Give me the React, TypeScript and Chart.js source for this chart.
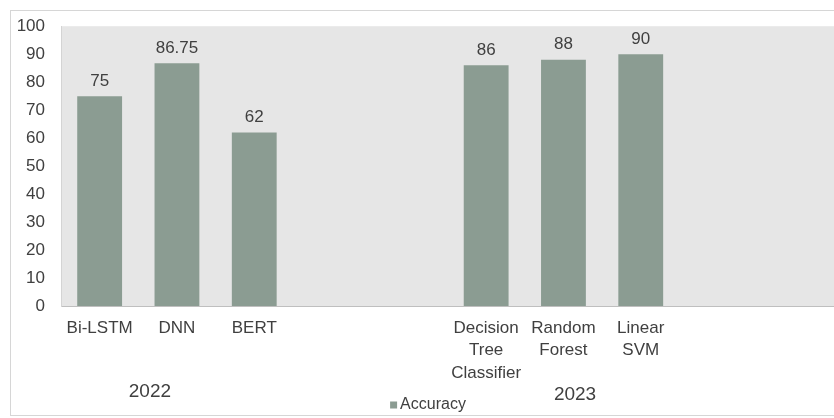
import React, { useEffect, useRef } from "react";
import { Chart, registerables } from "chart.js";

Chart.register(...registerables);

const categories: (string | string[])[] = [
  "Bi-LSTM",
  "DNN",
  "BERT",
  "",
  "",
  ["Decision", "Tree", "Classifier"],
  ["Random", "Forest"],
  ["Linear", "SVM"],
  "",
  "",
];
const accuracy: (number | null)[] = [75, 86.75, 62, null, null, 86, 88, 90, null, null];
const valueLabels: string[] = ["75", "86.75", "62", "", "", "86", "88", "90", "", ""];
const groupLabels: string[] = ["2022", "2023"];
const groupPositions: number[] = [0.65, 6.15];
const yTicks: number[] = [0, 10, 20, 30, 40, 50, 60, 70, 80, 90, 100];
const seriesName = "Accuracy";

const FONT = "'Liberation Sans', Arial, sans-serif";
const TEXT = "#404040";
const BAR = "#8b9c92";

export default function App() {
  const ref = useRef<HTMLCanvasElement | null>(null);

  useEffect(() => {
    if (!ref.current) return;
    const deco = {
      id: "deco",
      beforeDraw(chart: any) {
        const { ctx, chartArea } = chart;
        ctx.save();
        ctx.fillStyle = "#ffffff";
        ctx.fillRect(0, 0, chart.width, chart.height);
        ctx.strokeStyle = "#d6d6d6";
        ctx.lineWidth = 1;
        ctx.strokeRect(10.5, 10.5, chart.width, chart.height - 13);
        ctx.fillStyle = "#e6e6e6";
        ctx.fillRect(chartArea.left, chartArea.top, chartArea.right - chartArea.left, chartArea.bottom - chartArea.top);
        ctx.restore();
      },
      afterDatasetsDraw(chart: any) {
        const { ctx } = chart;
        const meta = chart.getDatasetMeta(0);
        ctx.save();
        ctx.font = `17px ${FONT}`;
        ctx.fillStyle = TEXT;
        ctx.textAlign = "center";
        ctx.textBaseline = "middle";
        meta.data.forEach((el: any, i: number) => {
          if (accuracy[i] == null) return;
          ctx.fillText(valueLabels[i], el.x, el.y - 15);
        });
        const xs = chart.scales.x;
        ctx.font = `19px ${FONT}`;
        groupLabels.forEach((g, i) => {
          const x = xs.getPixelForValue(groupPositions[i]);
          ctx.fillText(g, x, i === 0 ? 392 : 395);
        });
        // legend
        const ds = chart.data.datasets[0];
        ctx.font = `16px ${FONT}`;
        ctx.textAlign = "left";
        const tw = ctx.measureText(seriesName).width;
        const cx = (chart.width + 22) / 2;
        const total = 7 + 3 + tw;
        const lx = cx - total / 2;
        const ly = 405;
        ctx.fillStyle = ds.backgroundColor;
        ctx.fillRect(lx, ly - 3.5, 7, 7);
        ctx.fillStyle = TEXT;
        ctx.fillText(ds.label, lx + 10, ly);
        ctx.restore();
      },
    };

    const chart = new Chart(ref.current, {
      type: "bar",
      data: {
        labels: categories,
        datasets: [
          {
            label: seriesName,
            data: accuracy,
            backgroundColor: BAR,
            categoryPercentage: 1,
            barPercentage: 0.58,
          },
        ],
      },
      options: {
        animation: false,
        responsive: false,
        layout: { padding: { top: 26, left: 0, right: 0, bottom: 0 } },
        plugins: {
          legend: { display: false },
          tooltip: { enabled: false },
        },
        scales: {
          x: {
            grid: { display: false, drawTicks: false },
            border: { display: true, color: "#bfbfbf", width: 1 },
            ticks: {
              font: { family: FONT, size: 17, lineHeight: 1.32 },
              color: TEXT,
              padding: 11,
              maxRotation: 0,
              autoSkip: false,
            },
            afterFit(scale: any) {
              scale.height = 112;
            },
          },
          y: {
            min: 0,
            max: 100,
            afterBuildTicks(scale: any) {
              scale.ticks = yTicks.map((v) => ({ value: v }));
            },
            grid: { display: false, drawTicks: false },
            border: { display: true, color: "#d4d4d4", width: 1 },
            ticks: {
              font: { family: FONT, size: 17 },
              color: TEXT,
              padding: 16,
            },
            afterFit(scale: any) {
              scale.width = 61;
            },
          },
        },
      },
      plugins: [deco],
    });
    return () => chart.destroy();
  }, []);

  return (
    <div style={{ position: "absolute", left: 0, top: 0, width: 834, height: 418 }}>
      <canvas ref={ref} width={834} height={418} />
    </div>
  );
}
